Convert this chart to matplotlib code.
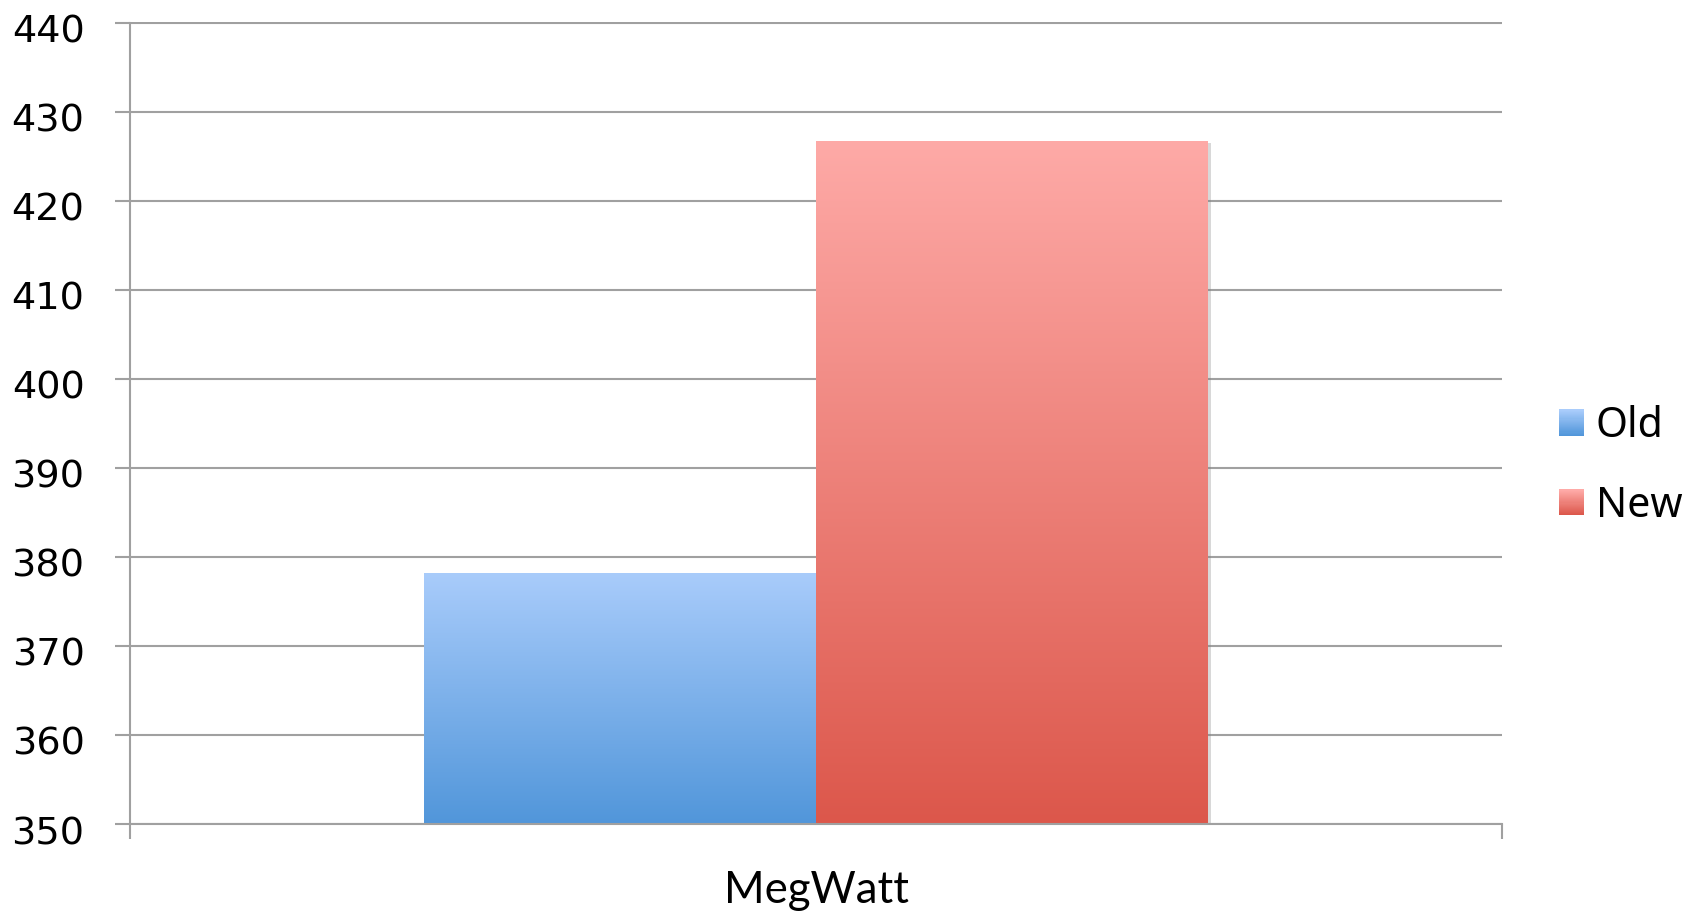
import numpy as np
import matplotlib
matplotlib.use("Agg")
import matplotlib.pyplot as plt
from matplotlib.patches import Patch, Rectangle
from matplotlib.colors import LinearSegmentedColormap
from matplotlib.legend_handler import HandlerBase
from matplotlib.transforms import ScaledTranslation
import matplotlib.patheffects as pe

# ---- data ----
categories = ["MegWatt"]
series_names = ["Old", "New"]
old_values = [378.2]
new_values = [426.7]
y_ticks = [350, 360, 370, 380, 390, 400, 410, 420, 430, 440]

# top / bottom colours of each series gradient
grad_top = ["#a9ccfb", "#feaaa7"]
grad_bottom = ["#5196da", "#dc574b"]

GRID = "#a0a0a0"

fig = plt.figure(figsize=(16.98, 9.13), dpi=100)
ax = fig.add_axes([130 / 1698, 89 / 913, 1372 / 1698, 801.5 / 913])

ax.set_xlim(-0.5, 0.5)
ax.set_ylim(y_ticks[0], y_ticks[-1])

bar_w = 1 / 3.5
offsets = [-bar_w / 2, bar_w / 2]
values = [old_values, new_values]
x = np.arange(len(categories))


def gradient_cmap(i):
    return LinearSegmentedColormap.from_list(
        f"g{i}", [grad_bottom[i], grad_top[i]])


for i, (vals, off) in enumerate(zip(values, offsets)):
    bars = ax.bar(x + off, vals, width=bar_w, bottom=0,
                  color="white", zorder=3, linewidth=0)
    for b in bars:
        b.set_path_effects([pe.SimplePatchShadow(offset=(2.5, -1.5),
                                                 shadow_rgbFace="#808080",
                                                 alpha=0.3),
                            pe.Normal()])
        x0 = b.get_x()
        x1 = x0 + b.get_width()
        top = b.get_height()
        grad = np.linspace(0, 1, 256).reshape(-1, 1)
        im = ax.imshow(grad, cmap=gradient_cmap(i), origin="lower",
                       extent=[x0, x1, y_ticks[0], top], aspect="auto",
                       zorder=4, interpolation="bilinear")
        im.set_clip_path(b)

ax.set_xlim(-0.5, 0.5)
ax.set_ylim(y_ticks[0], y_ticks[-1])

# grid and axes
ax.set_yticks(y_ticks)
ax.yaxis.grid(True, color=GRID, linewidth=1.5, zorder=1)
ax.set_axisbelow(True)
for s in ["top", "right"]:
    ax.spines[s].set_visible(False)
for s in ["left", "bottom"]:
    ax.spines[s].set_color(GRID)
    ax.spines[s].set_linewidth(1.5)
    ax.spines[s].set_zorder(5)

ax.tick_params(axis="y", direction="out", length=10.8, width=1.5,
               color=GRID, pad=22, labelsize=27.5, labelcolor="black")
shift_down = ScaledTranslation(0, -6 / 100, fig.dpi_scale_trans)
for lab in ax.get_yticklabels():
    lab.set_fontfamily("DejaVu Sans")
    lab.set_transform(lab.get_transform() + shift_down)

# category boundaries as major ticks, category names as minor ticks
ax.set_xticks([-0.5, 0.5])
ax.set_xticklabels(["", ""])
ax.tick_params(axis="x", which="major", direction="out", length=10.8,
               width=1.5, color=GRID)
ax.set_xticks(x, minor=True)
ax.set_xticklabels(categories, minor=True, fontsize=31.5, family="Lato")
ax.tick_params(axis="x", which="minor", length=0, pad=33)


class GradientHandler(HandlerBase):
    def __init__(self, idx):
        super().__init__()
        self.idx = idx

    def create_artists(self, legend, orig_handle, xdescent, ydescent,
                       width, height, fontsize, trans):
        n = 24
        cmap = gradient_cmap(self.idx)
        arts = []
        for k in range(n):
            r = Rectangle((-xdescent, -ydescent + height * k / n), width,
                          height / n + 0.3, facecolor=cmap(k / (n - 1)),
                          edgecolor="none", transform=trans)
            arts.append(r)
        return arts


handles = [Patch(label=name) for name in series_names]
fig.legend(handles=handles, labels=series_names,
           handler_map={h: GradientHandler(i) for i, h in enumerate(handles)},
           loc="center left", bbox_to_anchor=(1559 / 1698, 0.4895),
           frameon=False, prop={"family": "Noto Sans", "size": 29.5},
           handlelength=0.6, handleheight=0.6, handletextpad=0.3,
           labelspacing=0.92, borderpad=0, borderaxespad=0)

fig.savefig("out.png", dpi=100, facecolor="white")
